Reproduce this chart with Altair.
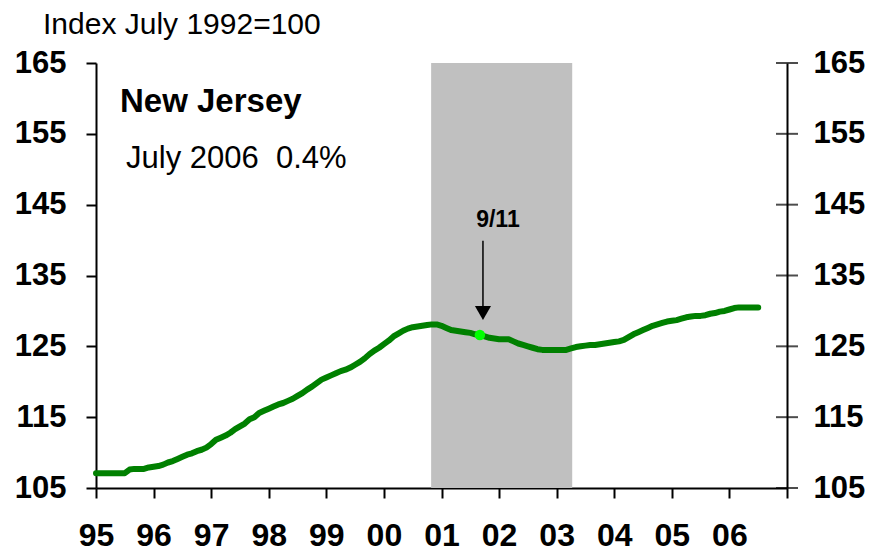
import altair as alt
import pandas as pd

# Monthly index values, Jan 1995 .. Jul 2006
v1995 = [107.1, 107.1, 107.1, 107.1, 107.1, 107.1, 107.1, 107.6, 107.7, 107.7, 107.7, 107.9]
v1996 = [108.0, 108.1, 108.3, 108.6, 108.8, 109.1, 109.4, 109.7, 109.9, 110.2, 110.4, 110.7]
v1997 = [111.2, 111.8, 112.1, 112.4, 112.8, 113.3, 113.7, 114.1, 114.7, 115.0, 115.6, 115.9]
v1998 = [116.2, 116.5, 116.8, 117.0, 117.3, 117.6, 118.0, 118.4, 118.9, 119.3, 119.8, 120.3]
v1999 = [120.6, 120.9, 121.2, 121.5, 121.7, 122.0, 122.4, 122.8, 123.3, 123.9, 124.4, 124.8]
v2000 = [125.3, 125.8, 126.4, 126.8, 127.2, 127.5, 127.7, 127.8, 127.9, 128.0, 128.1, 128.1]
v2001 = [127.9, 127.6, 127.3, 127.2, 127.1, 127.0, 126.9, 126.7, 126.6, 126.4, 126.2, 126.1]
v2002 = [126.0, 126.0, 126.0, 125.7, 125.4, 125.2, 125.0, 124.8, 124.6, 124.5, 124.5, 124.5]
v2003 = [124.5, 124.5, 124.5, 124.7, 124.9, 125.0, 125.1, 125.2, 125.2, 125.3, 125.4, 125.5]
v2004 = [125.6, 125.7, 125.9, 126.3, 126.7, 127.0, 127.3, 127.6, 127.9, 128.1, 128.3, 128.5]
v2005 = [128.6, 128.7, 128.9, 129.1, 129.2, 129.3, 129.3, 129.4, 129.6, 129.7, 129.9, 130.0]
v2006 = [130.2, 130.4, 130.5, 130.5, 130.5, 130.5, 130.5]

values = v1995 + v1996 + v1997 + v1998 + v1999 + v2000 + v2001 + v2002 + v2003 + v2004 + v2005 + v2006
start_year = 1995
years = [start_year + i / 12 for i in range(len(values))]

x_ticks = list(range(1995, 2008))
y_ticks = [105, 115, 125, 135, 145, 155, 165]

recession_start = 2000.82
recession_end = 2003.27

sept11_x = 2001 + 8 / 12
sept11_y = 126.6

df = pd.DataFrame({"t": years, "v": values})
ticks_df = pd.DataFrame({"v": y_ticks})

FONT = "Liberation Sans"

xscale = alt.Scale(domain=[1995, 2007], nice=False, zero=False)
yscale = alt.Scale(domain=[105, 165], nice=False, zero=False)

x_axis = alt.Axis(
    values=x_ticks,
    labelExpr="datum.value == 2007 ? '' : substring(format(datum.value, 'd'), 2, 4)",
    title=None, grid=False,
    domainColor="black", domainWidth=2, tickColor="black", tickWidth=2, tickSize=10,
    labelFont=FONT, labelFontSize=32, labelFontWeight="bold", labelColor="black",
    labelPadding=22, labelFlush=False, labelOverlap=False,
)
y_axis_left = alt.Axis(
    values=y_ticks, title=None, grid=False, orient="left",
    domainColor="black", domainWidth=2, tickColor="black", tickWidth=2, tickSize=10,
    labelFont=FONT, labelFontSize=31, labelFontWeight="bold", labelColor="black",
    labelPadding=20, labelFlush=False, labelOverlap=False,
)
y_axis_right = alt.Axis(
    values=y_ticks, title=None, grid=False, orient="right",
    domainColor="black", domainWidth=2, ticks=False,
    labelFont=FONT, labelFontSize=31, labelFontWeight="bold", labelColor="black",
    labelPadding=26, labelFlush=False, labelOverlap=False,
)

shade = alt.Chart(pd.DataFrame({"a": [recession_start], "b": [recession_end]})).mark_rect(
    color="#C0C0C0"
).encode(
    x=alt.X("a:Q", scale=xscale, axis=x_axis),
    x2="b:Q",
    y=alt.datum(105, scale=yscale, axis=y_axis_left),
    y2=alt.datum(165),
)

line = alt.Chart(df).mark_line(color="#008000", strokeWidth=6, strokeCap="round", strokeJoin="round").encode(
    x=alt.X("t:Q", scale=xscale, axis=x_axis),
    y=alt.Y("v:Q", scale=yscale, axis=None),
)

dot = alt.Chart(pd.DataFrame({"t": [sept11_x], "v": [sept11_y]})).mark_point(
    shape="circle", filled=True, color="#00FF00", size=110, opacity=1
).encode(x=alt.X("t:Q", axis=x_axis), y=alt.Y("v:Q", axis=None))

arrow_line = alt.Chart(pd.DataFrame({"t": [2001.72], "a": [139.9], "b": [130.3]})).mark_rule(
    color="black", strokeWidth=1.5
).encode(x=alt.X("t:Q", axis=x_axis), y=alt.Y("a:Q", axis=None), y2="b:Q")

arrow_head = alt.Chart(pd.DataFrame({"t": [2001.72], "v": [129.7]})).mark_point(
    shape="triangle-down", filled=True, color="black", size=260, opacity=1
).encode(x=alt.X("t:Q", axis=x_axis), y=alt.Y("v:Q", axis=None))

label911 = alt.Chart(pd.DataFrame({"t": [2001.98], "v": [141.9], "s": ["9/11"]})).mark_text(
    font=FONT, fontSize=23, fontWeight="bold", color="black", align="center", baseline="alphabetic"
).encode(x=alt.X("t:Q", axis=x_axis), y=alt.Y("v:Q", axis=None), text="s:N")

texts = pd.DataFrame({
    "s": ["Index July 1992=100", "New Jersey", "July 2006\u00a0 0.4%"],
})
t_index = alt.Chart(texts.iloc[[0]]).mark_text(
    font=FONT, fontSize=30, color="black", align="left", baseline="alphabetic"
).encode(x=alt.value(-53), y=alt.value(-29), text="s:N")
t_title = alt.Chart(texts.iloc[[1]]).mark_text(
    font=FONT, fontSize=33, fontWeight="bold", color="black", align="left", baseline="alphabetic"
).encode(x=alt.value(24), y=alt.value(49), text="s:N")
t_sub = alt.Chart(texts.iloc[[2]]).mark_text(
    font=FONT, fontSize=31, color="black", align="left", baseline="alphabetic"
).encode(x=alt.value(30), y=alt.value(105), text="s:N")

right_ticks = alt.Chart(ticks_df).mark_tick(
    orient="horizontal", color="black", size=22, thickness=2
).encode(
    x=alt.datum(2007, scale=xscale),
    y=alt.Y("v:Q", scale=yscale, axis=y_axis_right),
)

chart = alt.layer(
    shade, line, dot, arrow_line, arrow_head, label911, t_index, t_title, t_sub, right_ticks
).resolve_axis(y="independent").properties(
    width=691, height=425,
    autosize=alt.AutoSizeParams(type="none"),
    padding={"left": 88, "top": 55, "right": 80, "bottom": 65},
    background="white",
).configure_view(stroke=None)

chart.save("out.html", embed_options={"renderer": "svg", "actions": False})
